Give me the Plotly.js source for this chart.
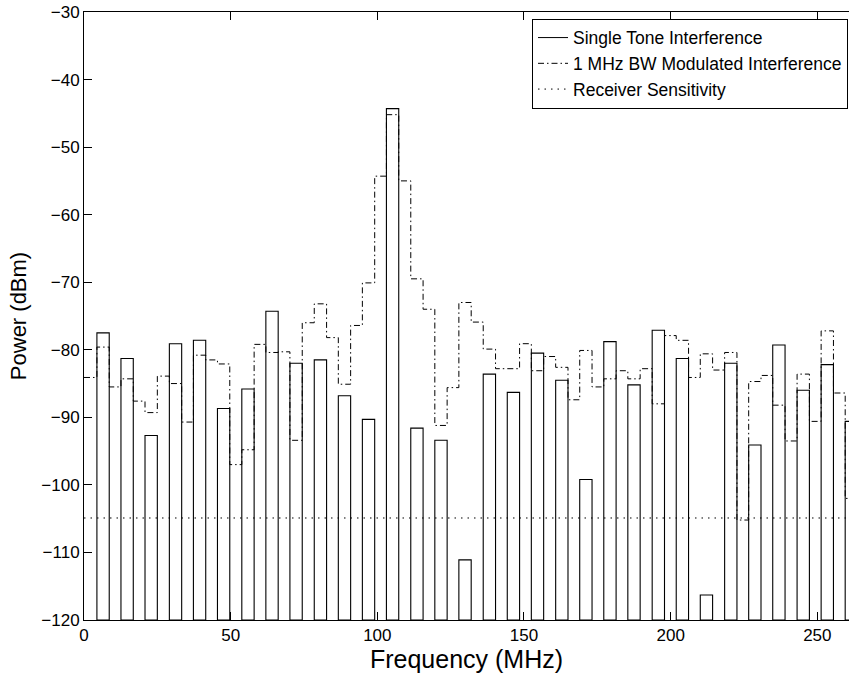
<!DOCTYPE html>
<html>
<head>
<meta charset="utf-8">
<script src="https://cdn.plot.ly/plotly-3.0.1.min.js"></script>
<style>
  html, body { margin: 0; padding: 0; background: #ffffff; }
  #chart { width: 849px; height: 673px; }
</style>
</head>
<body>
<div id="chart"></div>
<script>
// ---- Data ----
// Centre frequency of each interfering tone (MHz)
const freqMHz = [6.5, 14.7, 22.9, 31.2, 39.4, 47.6, 55.9, 64.1, 72.3, 80.6, 88.8, 97.0,
  105.2, 113.5, 121.7, 129.9, 138.2, 146.4, 154.6, 162.9, 171.1, 179.3, 187.5, 195.8,
  204.0, 212.2, 220.5, 228.7, 236.9, 245.2, 253.4, 261.6];

// Single tone interference power at each tone (dBm)
const singleToneDbm = [-77.5, -81.3, -92.7, -79.1, -78.6, -88.7, -85.8, -74.3, -82.0, -81.5, -86.8, -90.3,
  -44.3, -91.6, -93.4, -111.1, -83.6, -86.3, -80.5, -84.5, -99.2, -78.8, -85.2, -77.1,
  -81.3, -116.3, -82.0, -94.1, -79.3, -86.0, -82.2, -90.6];

// 1 MHz BW modulated interference: level in the gap just before each tone (dBm)
const modulatedGapDbm = [-84.1, -85.5, -87.6, -83.9, -90.7, -81.5, -97.0, -79.2, -80.3, -76.0, -78.2, -76.4,
  -54.3, -55.0, -74.0, -85.6, -75.9, -82.8, -79.1, -81.0, -87.4, -85.5, -83.1, -82.8,
  -77.9, -84.1, -83.0, -105.2, -83.8, -93.5, -90.6, -86.4];

// 1 MHz BW modulated interference: level across each tone (dBm)
const modulatedToneDbm = [-79.6, -84.3, -89.3, -85.0, -80.8, -82.1, -94.8, -80.4, -93.4, -73.2, -85.1, -70.1,
  -45.2, -69.5, -91.2, -73.0, -79.9, -82.8, -83.1, -82.6, -80.1, -84.3, -84.3, -88.0,
  -78.6, -80.6, -80.4, -84.7, -88.2, -83.6, -77.2, -102.0];

// Receiver sensitivity (dBm)
const sensitivityDbm = -104.9;

// Series names
const seriesNames = ['Single Tone Interference', '1 MHz BW Modulated Interference', 'Receiver Sensitivity'];

// ---- Build traces ----
const floorDbm = -120;      // bottom of the power axis
const barWidth = 4.2;       // MHz
const half = barWidth / 2;

// stairs for the modulated interference
const stairX = [];
const stairY = [];
for (let i = 0; i < freqMHz.length; i++) {
  stairX.push(i === 0 ? 0 : freqMHz[i - 1] + half);
  stairY.push(modulatedGapDbm[i]);
  stairX.push(freqMHz[i] - half);
  stairY.push(modulatedToneDbm[i]);
}
const lastEdge = freqMHz[freqMHz.length - 1] + half;
stairX.push(lastEdge);
stairY.push(modulatedToneDbm[modulatedToneDbm.length - 1]);

const traces = [
  {
    type: 'bar',
    x: freqMHz,
    y: singleToneDbm.map(v => v - floorDbm),
    base: floorDbm,
    width: barWidth,
    marker: { color: 'rgba(255,255,255,0)', line: { color: '#000', width: 1.1 } },
    showlegend: false,
    hoverinfo: 'skip'
  },
  {
    type: 'scatter', mode: 'lines',
    x: [null], y: [null],
    name: seriesNames[0],
    line: { color: '#000', width: 1 }
  },
  {
    type: 'scatter', mode: 'lines',
    x: stairX, y: stairY,
    line: { shape: 'hv', color: '#000', width: 1, dash: '6px,3px,1.5px,3px' },
    name: seriesNames[1]
  },
  {
    type: 'scatter', mode: 'lines',
    x: [0, lastEdge], y: [sensitivityDbm, sensitivityDbm],
    line: { color: '#000', width: 1, dash: '1.5px,5px' },
    name: seriesNames[2]
  }
];

const fontFam = '"Liberation Sans", Arial, Helvetica, sans-serif';

const layout = {
  width: 849, height: 673,
  margin: { l: 84, r: 0, t: 12, b: 53 },
  paper_bgcolor: '#fff', plot_bgcolor: '#fff',
  font: { family: fontFam, color: '#000', size: 17 },
  bargap: 0,
  xaxis: {
    range: [0, 260.8],
    tick0: 0, dtick: 50,
    ticks: 'inside', ticklen: 8, tickcolor: '#000', tickwidth: 1,
    showline: true, linecolor: '#000', linewidth: 1, mirror: 'ticks',
    showgrid: false, zeroline: false,
    tickfont: { size: 17 },
    title: { text: 'Frequency (MHz)', font: { size: 25 }, standoff: 4 }
  },
  yaxis: {
    range: [-120, -30],
    tick0: -120, dtick: 10,
    ticks: 'inside', ticklen: 8, tickcolor: '#000', tickwidth: 1,
    showline: true, linecolor: '#000', linewidth: 1, mirror: false,
    showgrid: false, zeroline: false,
    tickfont: { size: 17 },
    title: { text: 'Power (dBm)', font: { size: 22 }, standoff: 8 }
  },
  legend: {
    x: 0.9987, xanchor: 'right', y: 0.989, yanchor: 'top',
    bgcolor: '#fff', bordercolor: '#000', borderwidth: 1,
    font: { size: 17.5 },
    tracegroupgap: 0,
    itemwidth: 30
  },
  showlegend: true
};

Plotly.newPlot('chart', traces, layout, { staticPlot: true, displayModeBar: false });
</script>
</body>
</html>
